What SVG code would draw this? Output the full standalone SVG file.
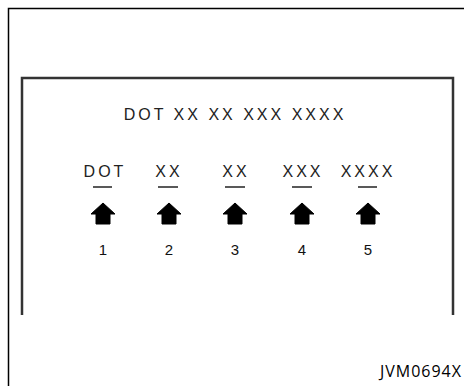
<svg xmlns="http://www.w3.org/2000/svg" width="464" height="386" viewBox="0 0 464 386">
<style>
.t{font-family:"Liberation Sans",Arial,sans-serif;font-size:16px;fill:#222;text-anchor:middle;letter-spacing:3px}
.n{font-family:"Liberation Sans",Arial,sans-serif;font-size:15px;fill:#111;text-anchor:middle}
.u{stroke:#222;stroke-width:1.5}
.a{fill:#000}
</style>
<defs>
<path id="arr" d="M0,-11 L12,0 L7,0 L7,10 L-7,10 L-7,0 L-12,0 Z" stroke="#000" stroke-width="1" stroke-linejoin="round"/>
</defs>
<rect width="464" height="386" fill="#fff"/>
<g id="frame" fill="none">
<path d="M8.5,386 V8.5 H464" stroke="#000" stroke-width="1.5"/>
<path d="M22,315 V78 H453 V315" stroke="#333" stroke-width="2.5"/>
</g>
<g id="title"><text class="t" x="235" y="120">DOT XX XX XXX XXXX</text></g>
<g id="n1"><text class="t" x="105" y="177">DOT</text><line class="u" x1="93" y1="187" x2="112" y2="187"/><use href="#arr" class="a" x="103" y="214"/><text class="n" x="103" y="255">1</text></g>
<g id="n2"><text class="t" x="169" y="177">XX</text><line class="u" x1="158" y1="187" x2="178" y2="187"/><use href="#arr" class="a" x="169" y="214"/><text class="n" x="169" y="255">2</text></g>
<g id="n3"><text class="t" x="236" y="177">XX</text><line class="u" x1="225" y1="187" x2="245" y2="187"/><use href="#arr" class="a" x="235" y="214"/><text class="n" x="235" y="255">3</text></g>
<g id="n4"><text class="t" x="303" y="177">XXX</text><line class="u" x1="292" y1="187" x2="312" y2="187"/><use href="#arr" class="a" x="302" y="214"/><text class="n" x="302" y="255">4</text></g>
<g id="n5"><text class="t" x="368" y="177">XXXX</text><line class="u" x1="358" y1="187" x2="377" y2="187"/><use href="#arr" class="a" x="368" y="214"/><text class="n" x="368" y="255">5</text></g>
<g id="connectors"></g>
<text x="462" y="377" font-family="'Open Sans',sans-serif" font-size="16" letter-spacing="1" text-anchor="end" fill="#000">JVM0694X</text>
</svg>
